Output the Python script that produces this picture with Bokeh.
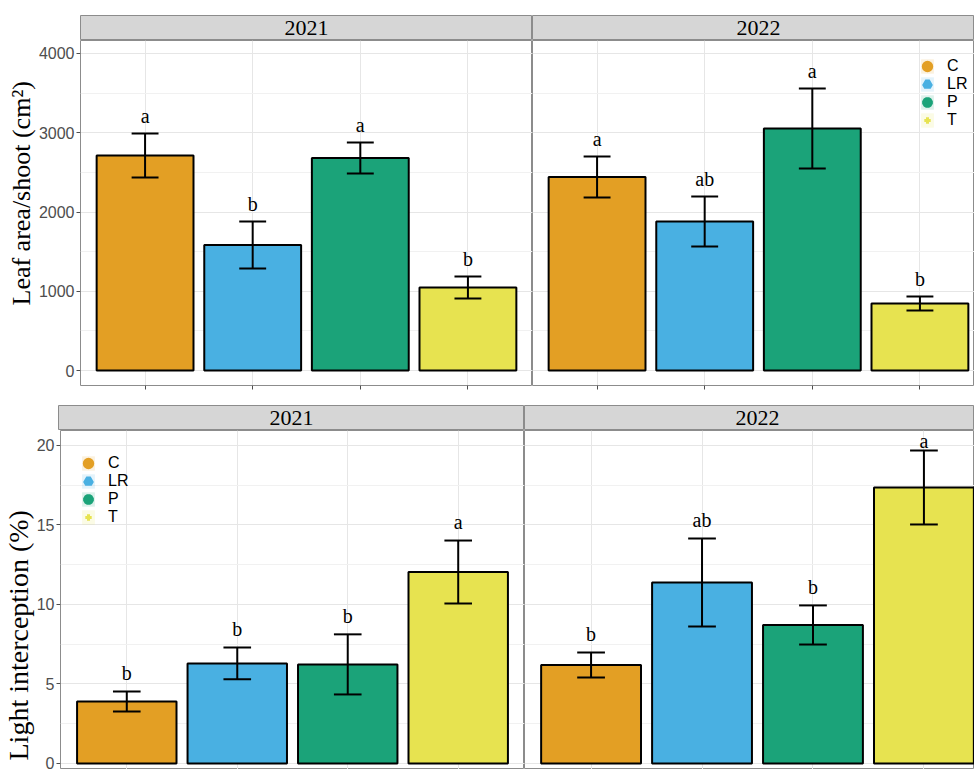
import numpy as np
from bokeh.plotting import figure
from bokeh.layouts import column, row
from bokeh.models import (ColumnDataSource, Range1d, FixedTicker, SingleIntervalTicker,
                          LinearAxis, Grid, Legend, LegendItem, Title)
from bokeh.core.properties import value
from bokeh.embed import file_html
from bokeh.resources import INLINE

# ---- data -------------------------------------------------------------
treatments = ["C", "LR", "P", "T"]
treatment_colors = ["#E39F24", "#49B0E2", "#1BA379", "#E7E350"]
treatment_markers = ["circle", "triangle", "hex", "cross"]
years = ["2021", "2022"]

leaf_area_2021 = [2713, 1584, 2681, 1047]
leaf_area_se_2021 = [278, 297, 196, 139]
leaf_area_letters_2021 = ["a", "b", "a", "b"]
leaf_area_2022 = [2442, 1880, 3054, 845]
leaf_area_se_2022 = [259, 315, 505, 88]
leaf_area_letters_2022 = ["a", "ab", "a", "b"]

light_int_2021 = [3.90, 6.29, 6.23, 12.04]
light_int_se_2021 = [0.63, 1.00, 1.89, 1.98]
light_int_letters_2021 = ["b", "b", "b", "a"]
light_int_2022 = [6.19, 11.38, 8.71, 17.36]
light_int_se_2022 = [0.79, 2.77, 1.23, 2.33]
light_int_letters_2022 = ["b", "ab", "b", "a"]

# ---- style ------------------------------------------------------------
SERIF = "Liberation Serif"
SANS = "Liberation Sans"
GRID = "#E6E6E6"
MINOR_GRID = "#F1F1F1"
BORDER = "#8C8C8C"
STRIP = "#D6D6D6"
TICK = "#4D4D4D"

xpos = np.arange(1, len(treatments) + 1)
x_lo = xpos[0] - 0.6
x_full_hi = xpos[-1] + 0.6


def make_strip(label, width, left, top, x_hi):
    s = figure(width=width, height=top + 25, min_border_left=left, min_border_right=0,
               min_border_top=top, min_border_bottom=0,
               x_range=Range1d(x_lo, x_hi), y_range=Range1d(0, 1),
               x_axis_location=None, y_axis_location=None, toolbar_location=None,
               output_backend="svg", background_fill_color=STRIP,
               border_fill_color="white", outline_line_color=BORDER)
    s.center = []
    s.text(x=[xpos.mean()], y=[0.5], text=[label], text_align="center",
           text_baseline="middle", text_font=value(SERIF), text_font_size="22px",
           text_color="black")
    return s


def make_panel(means, ses, letters, width, height, left, bottom, x_hi, y_range,
               interval, letter_offset, ylabel=None, ylabel_size="25px",
               ylabel_offset=0, ylabel_standoff=0, xticks=True, legend_loc=None):
    p = figure(width=width, height=height, min_border_left=left, min_border_right=0,
               min_border_top=0, min_border_bottom=bottom,
               x_range=Range1d(x_lo, x_hi), y_range=Range1d(*y_range),
               x_axis_location=None, y_axis_location=None, toolbar_location=None,
               output_backend="svg", background_fill_color="white",
               border_fill_color="white", outline_line_color=BORDER)
    p.center = []

    yticker = SingleIntervalTicker(interval=interval, num_minor_ticks=2)
    xticker = FixedTicker(ticks=list(xpos))
    p.add_layout(Grid(dimension=0, ticker=xticker, grid_line_color=GRID, grid_line_width=1))
    p.add_layout(Grid(dimension=1, ticker=yticker, grid_line_color=GRID, grid_line_width=1,
                      minor_grid_line_color=MINOR_GRID, minor_grid_line_width=1))

    if ylabel is not None:
        yaxis = LinearAxis(ticker=yticker,
                           major_label_text_font=SANS, major_label_text_font_size="16px",
                           major_label_text_color=TICK, major_label_standoff=2,
                           axis_line_color=None, major_tick_line_color=TICK,
                           major_tick_in=0, major_tick_out=4, minor_tick_line_color=None)
        p.add_layout(yaxis, "left")
        ytitle = Title(text=ylabel, align="left", offset=ylabel_offset,
                       standoff=ylabel_standoff, vertical_align="bottom",
                       text_font=SERIF, text_font_size=ylabel_size,
                       text_font_style="normal", text_color="black")
        p.add_layout(ytitle, "left")
    if xticks:
        # tick marks only; the treatment names are not printed under these panels
        xaxis = LinearAxis(ticker=xticker, major_label_text_font_size="1px",
                           major_label_text_color=None,
                           axis_line_color=None, major_tick_line_color=TICK,
                           major_tick_in=0, major_tick_out=4, minor_tick_line_color=None)
        p.add_layout(xaxis, "below")

    means = np.asarray(means, dtype=float)
    ses = np.asarray(ses, dtype=float)
    # letters sit above the upper whisker but are kept inside the panel
    y_lo, y_hi = y_range
    label_y = np.minimum(means + ses + letter_offset, y_hi - 0.03 * (y_hi - y_lo))
    src = ColumnDataSource(dict(
        x=xpos, mean=means, upper=means + ses, lower=means - ses,
        cap_l=xpos - 0.125, cap_r=xpos + 0.125,
        label_y=label_y, letters=letters, color=treatment_colors,
    ))
    p.vbar(x="x", top="mean", bottom=0, width=0.9, fill_color="color",
           line_color="black", line_width=2, source=src)
    p.segment(x0="x", y0="lower", x1="x", y1="upper", line_color="black",
              line_width=2, source=src)
    p.segment(x0="cap_l", y0="upper", x1="cap_r", y1="upper", line_color="black",
              line_width=2, source=src)
    p.segment(x0="cap_l", y0="lower", x1="cap_r", y1="lower", line_color="black",
              line_width=2, source=src)
    p.text(x="x", y="label_y", text="letters", text_align="center",
           text_baseline="alphabetic", text_font=value(SERIF), text_font_size="20px",
           text_color="black", source=src)

    if legend_loc is not None:
        items = []
        for name, col, mk in zip(treatments, treatment_colors, treatment_markers):
            key_bg = p.rect(x=[np.nan], y=[np.nan], width=1, height=1, fill_color=col,
                            fill_alpha=0.15, line_color=None)
            key_mk = p.scatter(x=[np.nan], y=[np.nan], marker=mk, size=10,
                               fill_color=col, line_color=col,
                               line_width=3 if mk == "cross" else 5)
            items.append(LegendItem(label=name, renderers=[key_bg, key_mk]))
        legend = Legend(items=items, location=legend_loc, orientation="vertical",
                        glyph_width=16, glyph_height=18, label_height=18,
                        spacing=0, padding=0, margin=0, label_standoff=12,
                        label_text_font=SANS, label_text_font_size="16px",
                        label_text_color="black", background_fill_alpha=0,
                        border_line_color=None, inactive_fill_alpha=0)
        p.add_layout(legend)
    return p


# ---- layout -----------------------------------------------------------
TOP_W_L, TOP_LEFT_BORDER, TOP_W_R = 532, 80, 442
BOT_W_L, BOT_LEFT_BORDER, BOT_W_R = 524, 58, 450

top_px_per_unit = (TOP_W_L - TOP_LEFT_BORDER) / (x_full_hi - x_lo)
bot_px_per_unit = (BOT_W_L - BOT_LEFT_BORDER) / (x_full_hi - x_lo)
top_right_hi = x_lo + TOP_W_R / top_px_per_unit
bot_right_hi = x_lo + BOT_W_R / bot_px_per_unit

TOP_Y = (-189, 4164)
BOT_Y = (-0.38, 20.94)

s_tl = make_strip(years[0], TOP_W_L, TOP_LEFT_BORDER, 15, x_full_hi)
s_tr = make_strip(years[1], TOP_W_R, 0, 15, top_right_hi)
p_tl = make_panel(leaf_area_2021, leaf_area_se_2021, leaf_area_letters_2021,
                  TOP_W_L, 365, TOP_LEFT_BORDER, 20, x_full_hi, TOP_Y, 1000, 220,
                  ylabel="Leaf area/shoot (cm\u00b2)", ylabel_size="26px",
                  ylabel_offset=80, ylabel_standoff=0)
p_tr = make_panel(leaf_area_2022, leaf_area_se_2022, leaf_area_letters_2022,
                  TOP_W_R, 365, 0, 20, top_right_hi, TOP_Y, 1000, 220,
                  legend_loc=(387, 256))

s_bl = make_strip(years[0], BOT_W_L, BOT_LEFT_BORDER, 0, x_full_hi)
s_br = make_strip(years[1], BOT_W_R, 0, 0, bot_right_hi)
p_bl = make_panel(light_int_2021, light_int_se_2021, light_int_letters_2021,
                  BOT_W_L, 339, BOT_LEFT_BORDER, 0, x_full_hi, BOT_Y, 5, 1.15,
                  ylabel="Light interception (%)", ylabel_size="28px",
                  ylabel_offset=9, ylabel_standoff=0, xticks=False,
                  legend_loc=(20, 243))
p_br = make_panel(light_int_2022, light_int_se_2022, light_int_letters_2022,
                  BOT_W_R, 339, 0, 0, bot_right_hi, BOT_Y, 5, 1.15, xticks=False)

layout = column(row(s_tl, s_tr), row(p_tl, p_tr), row(s_bl, s_br), row(p_bl, p_br))

open("out.html", "w").write(file_html(layout, INLINE))
